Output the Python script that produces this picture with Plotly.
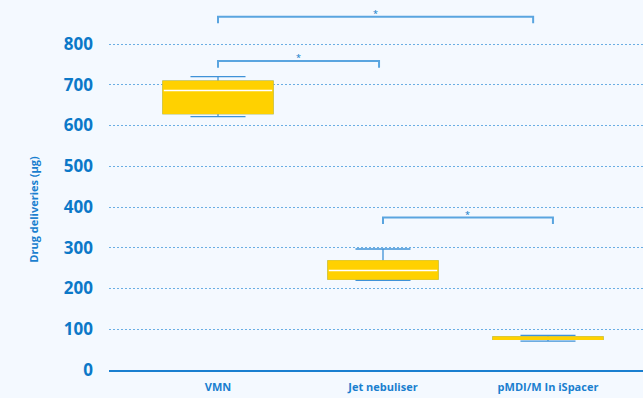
import plotly.graph_objects as go

# Delivered dose per device (μg): five-number summaries
devices = ["VMN", "Jet nebuliser", "pMDI/M In iSpacer"]
lower_whisker = [622, 220, 71]
q1 = [629, 223, 75]
median = [686, 244, 78]
q3 = [709, 268, 81]
upper_whisker = [720, 297, 85]

# Pairwise significance brackets: start/end position (category index), height (μg), label
bracket_start = [0.0, 0.0, 1.0]
bracket_end = [1.91, 0.976, 2.03]
bracket_height = [867, 758, 374]
bracket_label = ["*", "*", "*"]

y_ticks = [0, 100, 200, 300, 400, 500, 600, 700, 800]

BG = "#f4f9ff"
BLUE = "#0b78c8"
WHISKER = "#3f92d8"
BRACKET = "#5aa5e0"
GOLD = "#ffd100"
FONT = "Open Sans"

x_pos = list(range(len(devices)))
box_w = 0.667

fig = go.Figure()

# Whiskers and caps
fig.add_trace(go.Box(
    x=x_pos, q1=q1, median=median, q3=q3,
    lowerfence=lower_whisker, upperfence=upper_whisker,
    width=box_w, whiskerwidth=0.5,
    line=dict(color=WHISKER, width=1.3),
    fillcolor="rgba(0,0,0,0)", boxpoints=False, hoverinfo="skip",
    showlegend=False,
))
# Interquartile boxes
fig.add_trace(go.Box(
    x=x_pos, q1=q1, median=median, q3=q3,
    lowerfence=q1, upperfence=q3,
    width=box_w, whiskerwidth=0,
    line=dict(color=GOLD, width=1.3),
    fillcolor=GOLD, boxpoints=False, hoverinfo="skip",
    showlegend=False,
))
# Median lines (only where the box is tall enough to show one)
med_x = [x for x, a, b in zip(x_pos, q1, q3) if b - a >= 10]
med_y = [m for m, a, b in zip(median, q1, q3) if b - a >= 10]
fig.add_trace(go.Box(
    x=med_x, q1=med_y, median=med_y, q3=med_y,
    lowerfence=med_y, upperfence=med_y,
    width=box_w * 0.985, whiskerwidth=0,
    line=dict(color="white", width=1.5),
    fillcolor="white", boxpoints=False, hoverinfo="skip",
    showlegend=False,
))

# Significance brackets
tick_drop = 16
for xs, xe, h, lab in zip(bracket_start, bracket_end, bracket_height, bracket_label):
    fig.add_trace(go.Scatter(
        x=[xs, xs, xe, xe], y=[h - tick_drop, h, h, h - tick_drop],
        mode="lines", line=dict(color=BRACKET, width=2),
        hoverinfo="skip", showlegend=False,
    ))
    fig.add_annotation(
        x=(xs + xe) / 2, y=h - 13, text=lab, showarrow=False,
        yanchor="bottom", font=dict(family=FONT, size=9, color=BLUE),
    )

fig.add_annotation(
    text="<b>Drug deliveries (μg)</b>", textangle=-90,
    xref="paper", yref="paper", x=-0.143, y=0.435,
    xanchor="center", yanchor="middle", showarrow=False,
    font=dict(family=FONT, size=11, color="#1a7fcf"),
)

fig.update_layout(
    width=643, height=398,
    margin=dict(l=109, r=0, t=0, b=28),
    paper_bgcolor=BG, plot_bgcolor=BG,
    boxmode="overlay",
    font=dict(family=FONT, color=BLUE),
    xaxis=dict(
        range=[-0.6606, 2.5758],
        tickvals=x_pos, ticktext=devices,
        tickfont=dict(family=FONT, size=11, color="#1a7fcf", weight="bold"),
        showgrid=False, zeroline=False,
        showline=True, linecolor="#1a7fd0", linewidth=2,
        ticks="", ticklabelstandoff=6,
    ),
    yaxis=dict(
        range=[0, 908],
        tickvals=y_ticks,
        tickfont=dict(family=FONT, size=17, color=BLUE, weight="bold"),
        showgrid=True, gridcolor="#6aaee4", griddash="2px,2px", gridwidth=1,
        zeroline=False, showline=False, ticks="",
        ticklabelstandoff=15,
    ),
)

fig.write_html("out.html")
